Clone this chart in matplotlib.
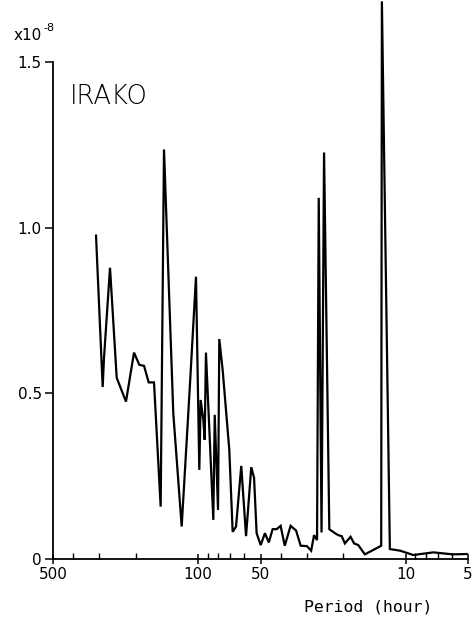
import matplotlib
matplotlib.use("Agg")
import matplotlib.pyplot as plt
from matplotlib.ticker import FixedLocator, NullFormatter, LogLocator

# Period (hours) and spectral amplitude (x1e-8)
period = [310.2, 288.1, 283.9, 265.6, 246.6, 222.5, 203.5, 191.9, 182.1, 172.9,
          163.0, 151.4, 145.9, 131.6, 119.9, 109.3, 102.3, 98.6, 97.1, 94.3,
          92.9, 91.6, 84.4, 83.1, 80.1, 79.0, 76.1, 70.7, 68.1, 65.6,
          61.9, 58.7, 55.4, 53.7, 52.2, 49.9, 47.6, 45.6, 43.7, 41.8,
          40.0, 38.2, 35.8, 33.7, 32.0, 29.9, 28.5, 27.6, 26.7, 26.2,
          25.4, 24.7, 23.3, 21.9, 21.1, 20.3, 19.6, 18.4, 17.7, 16.9,
          15.7, 13.1, 13.0, 11.9, 10.6, 9.18, 7.35, 6.60, 5.91, 5.07]
amplitude = [0.976, 0.519, 0.607, 0.879, 0.547, 0.475, 0.623, 0.586, 0.583, 0.533,
             0.533, 0.158, 1.236, 0.440, 0.098, 0.530, 0.852, 0.269, 0.480, 0.420,
             0.360, 0.623, 0.118, 0.435, 0.148, 0.664, 0.571, 0.330, 0.082, 0.098,
             0.281, 0.069, 0.277, 0.245, 0.078, 0.042, 0.078, 0.050, 0.090, 0.090,
             0.100, 0.040, 0.100, 0.086, 0.040, 0.039, 0.025, 0.072, 0.057, 1.090,
             0.080, 1.227, 0.090, 0.078, 0.072, 0.069, 0.047, 0.067, 0.047, 0.042,
             0.014, 0.040, 1.683, 0.030, 0.025, 0.012, 0.020, 0.017, 0.014, 0.015]

x_ticks = [500, 100, 50, 10, 5]
x_ticklabels = ["500", "100", "50", "10", "5"]
y_ticks = [0, 0.5, 1.0, 1.5]
y_ticklabels = ["0", "0.5", "1.0", "1.5"]

fig = plt.figure(figsize=(4.73, 6.17), dpi=100)
ax = fig.add_axes([53/473, 58/617, 415/473, 497/617])

ax.plot(period, amplitude, color="black", lw=1.6, clip_on=False,
        solid_joinstyle="miter")

ax.set_xscale("log")
ax.set_xlim(500, 5)
ax.set_ylim(0, 1.5)

ax.xaxis.set_major_locator(FixedLocator(x_ticks))
ax.set_xticklabels(x_ticklabels)
ax.xaxis.set_minor_locator(LogLocator(base=10, subs=range(2, 10)))
ax.xaxis.set_minor_formatter(NullFormatter())
ax.set_yticks(y_ticks)
ax.set_yticklabels(y_ticklabels)

for s in ["top", "right"]:
    ax.spines[s].set_visible(False)
for s in ["left", "bottom"]:
    ax.spines[s].set_linewidth(1.3)

ax.tick_params(axis="x", which="major", direction="inout", length=7, width=1.1,
               labelsize=11, pad=2)
ax.tick_params(axis="x", which="minor", direction="in", length=4, width=1.0)
ax.tick_params(axis="y", which="major", direction="out", length=6, width=1.1,
               labelsize=11, pad=2)

ax.text(0.04, 0.955, "IRAKO", transform=ax.transAxes, fontsize=18.5,
        fontweight="light", va="top", ha="left")

fig.text(14/473, 1 - 40/617, "x10", fontsize=11, ha="left", va="baseline")
fig.text(43/473, 1 - 31/617, "-8", fontsize=8, ha="left", va="baseline")

fig.text(432/473, 1 - 611/617, "Period (hour)", fontsize=11.8,
         family="DejaVu Sans Mono", ha="right", va="baseline")

fig.savefig("out.png", dpi=100)
